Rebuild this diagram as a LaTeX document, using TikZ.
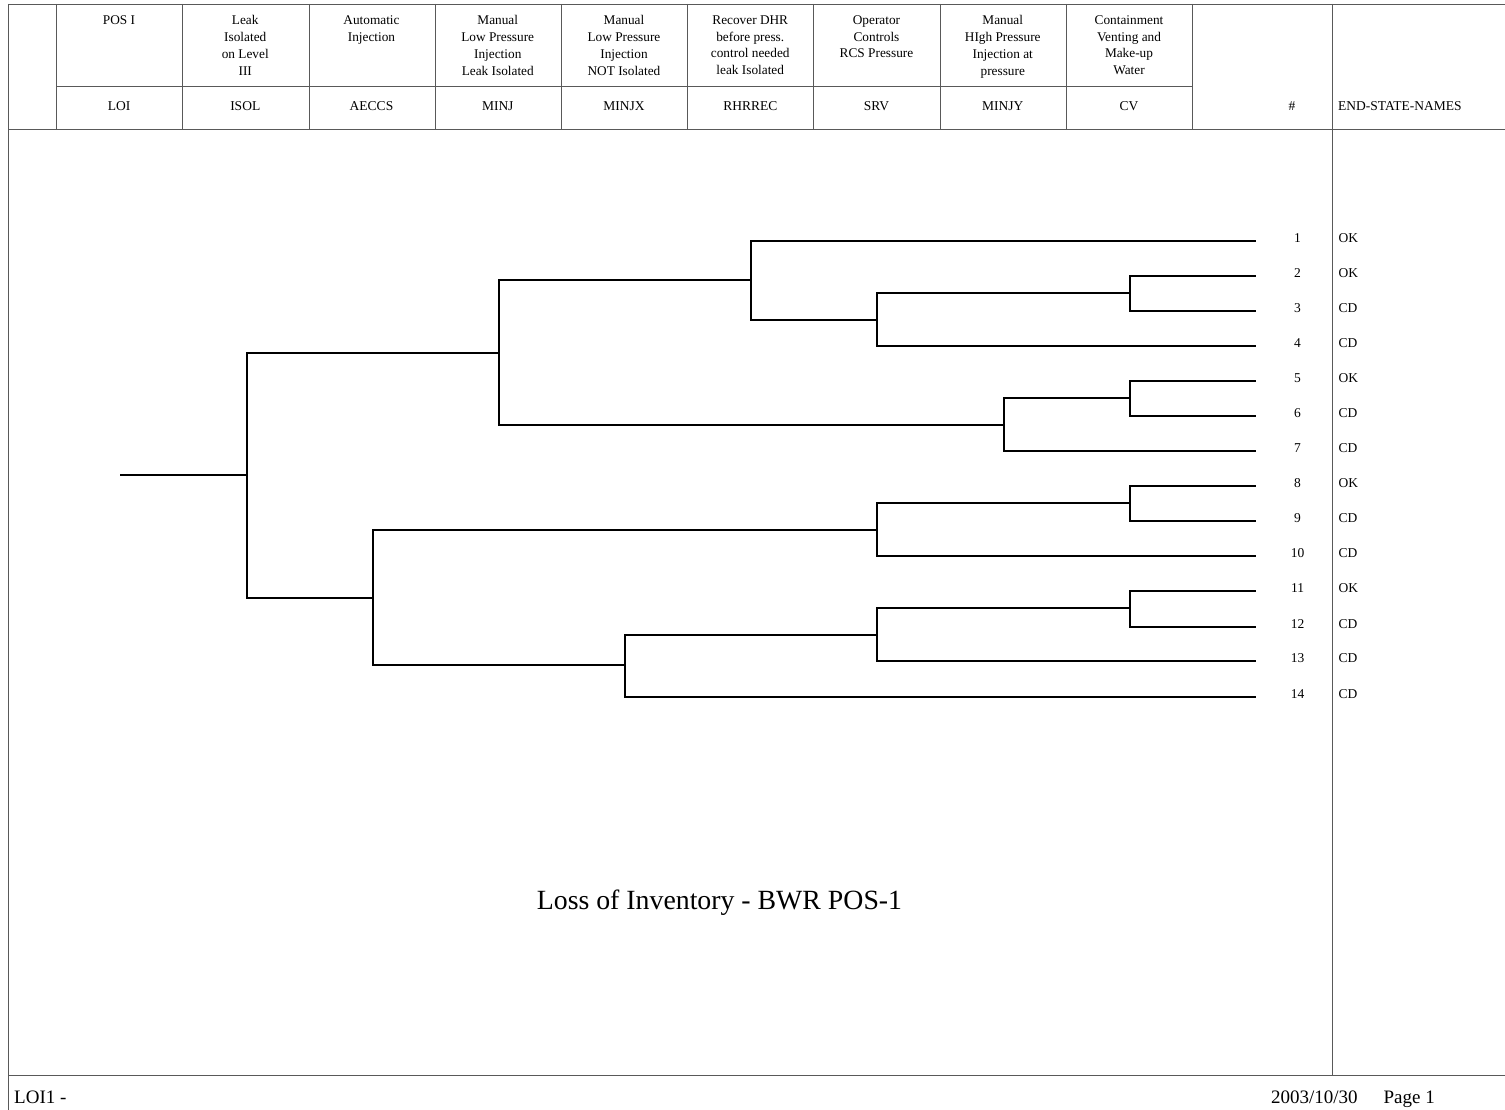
\documentclass[tikz,border=0pt]{standalone}
\usepackage{fontspec}
\setmainfont{Liberation Serif}
\usetikzlibrary{positioning,calc}

\begin{document}
\begin{tikzpicture}[x=1pt,y=-1pt,
  frame/.style={draw=black!65,line width=0.9pt},
  branch/.style={draw=black,line width=1.8pt},
  hdr/.style={font=\fontsize{13.3}{16.7}\selectfont,align=center,inner sep=0pt,anchor=north},
  code/.style={font=\fontsize{13.5}{15}\selectfont,inner sep=0pt,anchor=base},
  endnum/.style={font=\fontsize{13.5}{15}\selectfont,inner sep=0pt},
  endname/.style={font=\fontsize{13.5}{15}\selectfont,inner sep=0pt,anchor=west}]

  \useasboundingbox (0,0) rectangle (1505,1110);

  \def\colw{126.25} % column width
  \def\xend{1256}   % end of the sequences

  %%% frame
  \draw[frame] (8,4) -- (1505,4);
  \draw[frame] (8,4) -- (8,1110);
  \draw[frame] (8,129) -- (1505,129);
  \draw[frame] (8,1075) -- (1505,1075);
  \draw[frame] (1332,4) -- (1332,1075);
  \draw[frame] (56,86) -- (1192,86);
  \foreach \x in {56,182,309,435,561,687,813,940,1066,1192}
    \draw[frame] (\x,4) -- (\x,129);

  %%% header
  \foreach \i/\desc/\code in {0/{POS I}/LOI,
      1/{Leak\\Isolated\\on Level\\III}/ISOL,
      2/{Automatic\\Injection}/AECCS,
      3/{Manual\\Low Pressure\\Injection\\Leak Isolated}/MINJ,
      4/{Manual\\Low Pressure\\Injection\\NOT Isolated}/MINJX,
      5/{Recover DHR\\before press.\\control needed\\leak Isolated}/RHRREC,
      6/{Operator\\Controls\\RCS Pressure}/SRV,
      7/{Manual\\HIgh Pressure\\Injection at\\pressure}/MINJY,
      8/{Containment\\Venting and\\Make-up\\Water}/CV}
  {
    \node[hdr] (top\code) at ({119+\colw*\i},15.5) {\desc};
    \node[code] (\code) at ({119+\colw*\i},111) {\code};
  }
  \node[code] (hash) at (1292,111) {\#};
  \node[code,anchor=base west] (esn) at (1338,111) {END-STATE-NAMES};

  %%% branch points
  \coordinate (init) at (120,475);
  \coordinate (P0) at (247,475);
  \coordinate (A) at (499,353);
  \coordinate (B) at (373,598);
  \coordinate (C) at (751,280);
  \coordinate (D) at (1004,425);
  \coordinate (E) at (877,320);
  \coordinate (F) at (1130,293);
  \coordinate (G) at (1130,398);
  \coordinate (H) at (877,530);
  \coordinate (K) at (1130,503);
  \coordinate (L) at (625,665);
  \coordinate (M) at (877,635);
  \coordinate (N) at (1130,608);

  %%% end states
  \foreach \k/\y/\st in {1/241/OK,2/276/OK,3/311/CD,4/346/CD,5/381/OK,6/416/CD,7/451/CD,
      8/486/OK,9/521/CD,10/556/CD,11/591/OK,12/627/CD,13/661/CD,14/697/CD}
  {
    \coordinate (e\k) at (\xend,\y);
    \node[endnum] (num\k) at (1297.5,\y-2.5) {\k};
    \node[endname] (st\k) at (1338.5,\y-2.5) {\st};
  }

  %%% tree
  \draw[branch] (init) -- (P0);
  \draw[branch] (P0) |- (A);
  \draw[branch] (P0) |- (B);
  \draw[branch] (A) |- (C);
  \draw[branch] (A) |- (D);
  \draw[branch] (C) |- (e1);
  \draw[branch] (C) |- (E);
  \draw[branch] (E) |- (F);
  \draw[branch] (F) |- (e2);
  \draw[branch] (F) |- (e3);
  \draw[branch] (E) |- (e4);
  \draw[branch] (D) |- (G);
  \draw[branch] (G) |- (e5);
  \draw[branch] (G) |- (e6);
  \draw[branch] (D) |- (e7);
  \draw[branch] (B) |- (H);
  \draw[branch] (H) |- (K);
  \draw[branch] (K) |- (e8);
  \draw[branch] (K) |- (e9);
  \draw[branch] (H) |- (e10);
  \draw[branch] (B) |- (L);
  \draw[branch] (L) |- (M);
  \draw[branch] (M) |- (N);
  \draw[branch] (N) |- (e11);
  \draw[branch] (N) |- (e12);
  \draw[branch] (M) |- (e13);
  \draw[branch] (L) |- (e14);

  %%% title and footer
  \node[font=\fontsize{27.8}{32}\selectfont,inner sep=0pt] (title) at (719.5,902.5) {Loss of Inventory - BWR POS-1};
  \node[font=\fontsize{19}{22}\selectfont,inner sep=0pt,anchor=base west] (foot) at (14,1103) {LOI1 -};
  \node[font=\fontsize{19}{22}\selectfont,inner sep=0pt,anchor=base east] (page) at (1435,1103) {2003/10/30\hspace{26pt}Page 1};
\end{tikzpicture}
\end{document}
